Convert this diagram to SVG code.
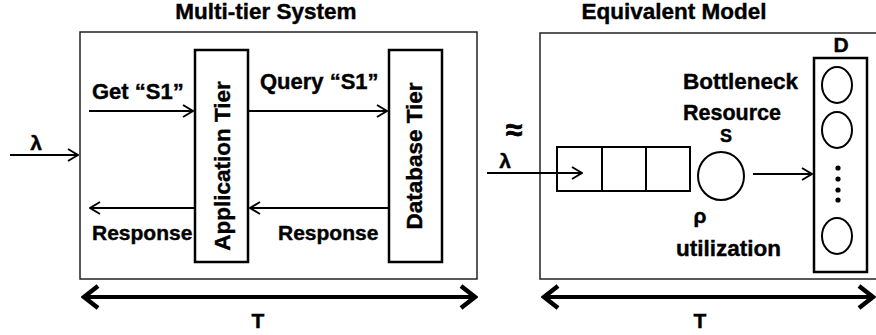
<svg xmlns="http://www.w3.org/2000/svg" width="876" height="335" viewBox="0 0 876 335">
<style>
text{font-family:"Liberation Sans",Arial,sans-serif;font-weight:bold;fill:#000;stroke:#000;stroke-width:0.4}
.t{font-size:21px}
.title{font-size:22.5px}
.frame{fill:#fff;stroke:#222;stroke-width:1.5}
.tier{fill:#fff;stroke:#000;stroke-width:2.5}
.ln{stroke:#000;stroke-width:2;fill:none}
.thick{stroke:#000;stroke-width:4;fill:none}
.res{fill:#fff;stroke:#000;stroke-width:2}
</style>
<defs>
<marker id="ah" viewBox="0 0 12 14" refX="11" refY="7" markerWidth="12" markerHeight="14" markerUnits="userSpaceOnUse" orient="auto">
<path d="M1,1 L11,7 L1,13" fill="none" stroke="#000" stroke-width="2"/>
</marker>
<marker id="bh" viewBox="0 0 20 28" refX="17" refY="14" markerWidth="20" markerHeight="28" markerUnits="userSpaceOnUse" orient="auto-start-reverse">
<path d="M3,3 L17,14 L3,25" fill="none" stroke="#000" stroke-width="4.5"/>
</marker>
</defs>
<rect width="876" height="335" fill="#fff"/>

<text class="title" x="266" y="19" text-anchor="middle">Multi-tier System</text>
<text class="title" x="674" y="19" text-anchor="middle">Equivalent Model</text>

<g id="system-box"><rect class="frame" x="80" y="32" width="397" height="247"/></g>
<g id="model-box"><rect class="frame" x="540" y="33" width="345" height="246"/></g>

<g id="app-tier">
<rect class="tier" x="195" y="50" width="53" height="212"/>
<text x="230" y="166" transform="rotate(-90 230 166)" text-anchor="middle" style="font-size:22.5px">Application Tier</text>
</g>
<g id="db-tier">
<rect class="tier" x="389" y="50" width="53" height="212"/>
<text x="422" y="156" transform="rotate(-90 422 156)" text-anchor="middle" style="font-size:22.5px">Database Tier</text>
</g>

<g id="queue">
<rect class="res" x="557" y="147" width="133" height="44"/>
<line class="ln" x1="602" y1="147" x2="602" y2="191"/>
<line class="ln" x1="646" y1="147" x2="646" y2="191"/>
</g>
<g id="server">
<ellipse class="res" cx="721" cy="176" rx="23" ry="24"/>
<text x="726" y="142" text-anchor="middle" style="font-size:18px">S</text>
</g>
<g id="delay">
<rect class="tier" x="814" y="58" width="53" height="214"/>
<text x="841" y="52" text-anchor="middle" class="t">D</text>
<ellipse class="res" cx="837" cy="85" rx="15" ry="18"/>
<ellipse class="res" cx="837" cy="130" rx="15" ry="18"/>
<ellipse class="res" cx="837" cy="236" rx="15" ry="18"/>
<circle cx="838" cy="168" r="2.6"/>
<circle cx="838" cy="179" r="2.6"/>
<circle cx="838" cy="190" r="2.6"/>
<circle cx="838" cy="200" r="2.6"/>
</g>

<g id="connectors">
<line class="ln" x1="10" y1="155" x2="78" y2="155" marker-end="url(#ah)"/>
<line class="ln" x1="89" y1="111" x2="193" y2="111" marker-end="url(#ah)"/>
<line class="ln" x1="248" y1="111" x2="387" y2="111" marker-end="url(#ah)"/>
<line class="ln" x1="195" y1="208" x2="90" y2="208" marker-end="url(#ah)"/>
<line class="ln" x1="389" y1="208" x2="250" y2="208" marker-end="url(#ah)"/>
<line class="ln" x1="487" y1="173" x2="582" y2="173" marker-end="url(#ah)"/>
<line class="ln" x1="753" y1="174" x2="812" y2="174" marker-end="url(#ah)"/>
<line class="thick" x1="84" y1="297" x2="475" y2="297" marker-start="url(#bh)" marker-end="url(#bh)"/>
<line class="thick" x1="544" y1="297" x2="873" y2="297" marker-start="url(#bh)" marker-end="url(#bh)"/>
</g>

<g id="labels">
<text class="t" x="36" y="150" text-anchor="middle">λ</text>
<text class="t" x="92" y="99" style="font-size:22px">Get “S1”</text>
<text class="t" x="260" y="89" style="font-size:22px">Query “S1”</text>
<text class="t" x="92" y="240">Response</text>
<text class="t" x="278" y="240">Response</text>
<text class="t" x="258" y="328" text-anchor="middle">T</text>
<text class="t" x="505" y="168" text-anchor="middle">λ</text>
<text x="514" y="140" text-anchor="middle" style="font-size:30px;stroke-width:0.8">≈</text>
<text class="t" x="683" y="89" style="font-size:22.5px">Bottleneck</text>
<text class="t" x="683" y="120" style="font-size:21.5px">Resource</text>
<text class="t" x="700" y="223" text-anchor="middle">ρ</text>
<text class="t" x="676" y="256" style="font-size:22.5px">utilization</text>
<text class="t" x="700" y="328" text-anchor="middle">T</text>
</g>
</svg>
